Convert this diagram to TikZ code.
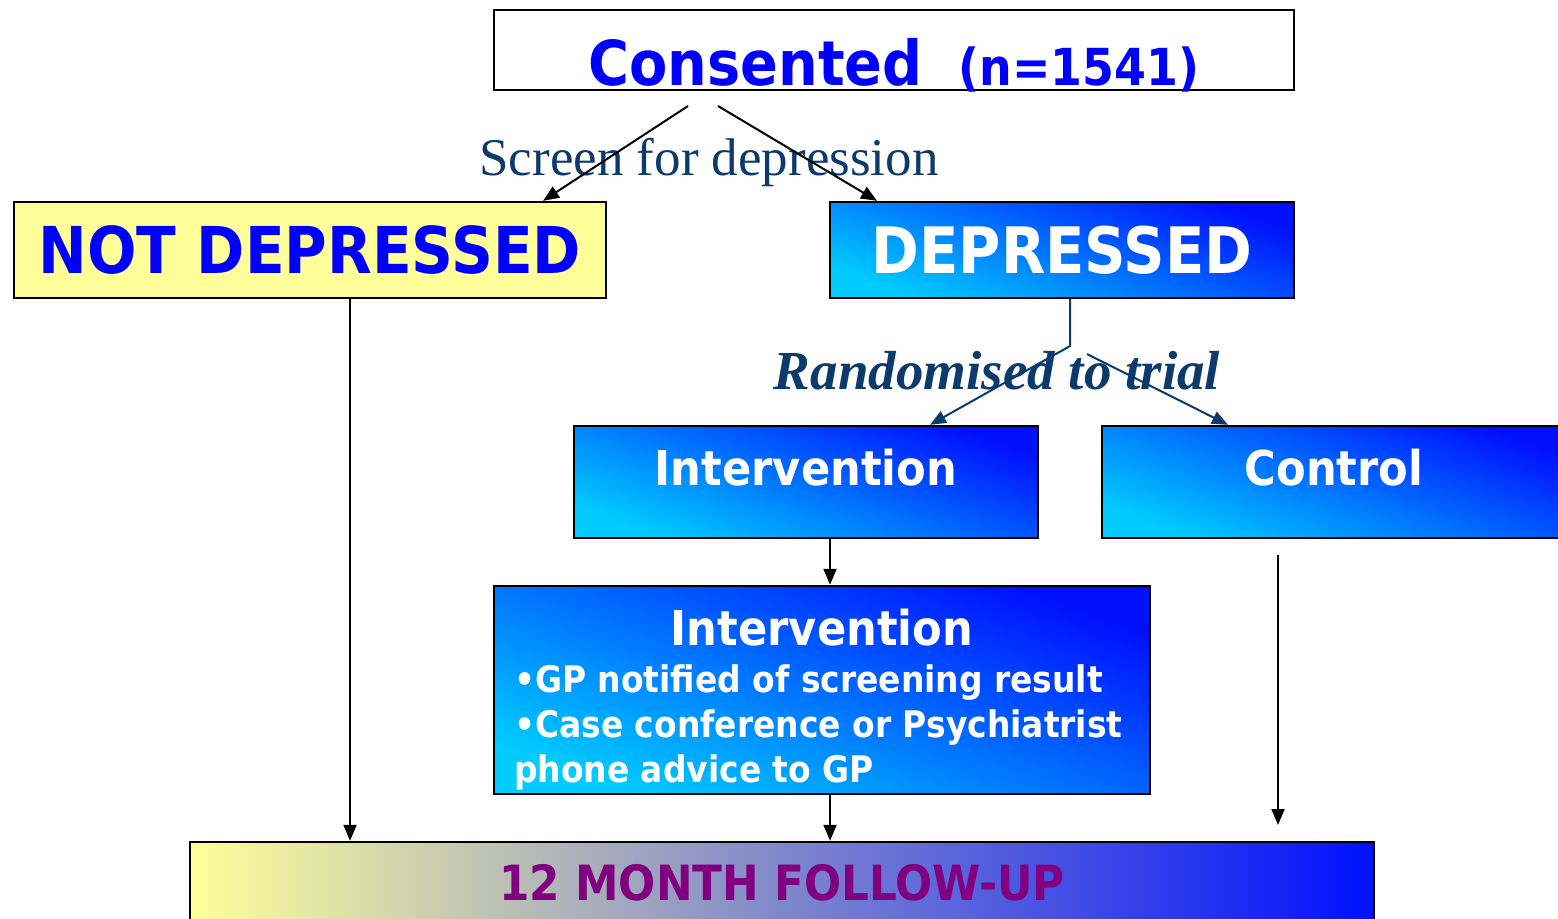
\documentclass[tikz,border=0pt]{standalone}
\usepackage{fontspec}
\setmainfont{Liberation Serif}
\newfontfamily\boxfont{DejaVu Sans}[FakeStretch=0.9]
\usepackage{tikz}
\usetikzlibrary{arrows.meta,calc}
\usepackage{xcolor}
\definecolor{TrialBlue}{HTML}{0000FF}
\definecolor{TrialNavy}{HTML}{0B3A6B}
\definecolor{TrialYellow}{HTML}{FFFF99}
\definecolor{TrialCyan}{HTML}{00CCFF}
\definecolor{TrialMid}{HTML}{00A0FF}
\definecolor{TrialDeep}{HTML}{0010FF}
\definecolor{TrialGrey}{HTML}{C8C8D0}
\definecolor{TrialPurple}{HTML}{800080}

\begin{document}
\begin{tikzpicture}[x=0.5pt, y=-0.5pt,
    every node/.style={font=\boxfont\bfseries},
    box/.style={draw, line width=1.2pt, inner xsep=0pt},
    bluebox/.style={box, left color=TrialCyan, middle color=TrialMid, right color=TrialDeep, shading angle=160},
    arr/.style={-{Triangle[length=8pt,width=6.5pt]}, line width=1pt}]
    \useasboundingbox (0,0) rectangle (1558,918);
    \clip (0,0) rectangle (1558,918);
    % boxes
    \node[box, fill=white, minimum width=400pt, inner ysep=0pt, text height=37.5pt, text depth=2.5pt, text=TrialBlue] (consented) at (894,50)
        {\fontsize{31}{31}\selectfont Consented\hspace{18pt}\fontsize{25.5}{25.5}\selectfont(n=1541)};
    \node[box, fill=TrialYellow, minimum width=296pt, minimum height=48pt, text=TrialBlue, font=\boxfont\bfseries\fontsize{32.3}{32.3}\selectfont] (notdep) at (310,250) {NOT DEPRESSED};
    \node[bluebox, minimum width=232pt, minimum height=48pt, text=white, font=\boxfont\bfseries\fontsize{32}{32}\selectfont] (depressed) at (1062,250) {DEPRESSED};
    \node[bluebox, minimum width=232pt, inner ysep=0pt, text height=29.5pt, text depth=26.5pt, text=white, font=\boxfont\bfseries\fontsize{24}{24}\selectfont] (interv) at (806,482) {Intervention};
    \node[bluebox, minimum width=232pt, inner ysep=0pt, text height=29.5pt, text depth=26.5pt, text=white, font=\boxfont\bfseries\fontsize{24}{24}\selectfont] (control) at (1334,482) {Control};
    \node[bluebox, minimum width=328pt, minimum height=104pt, inner ysep=0pt, align=left, text=white, font=\boxfont\bfseries\fontsize{18.3}{22.5}\selectfont] (interv2) at (822,690)
        {\makebox[308pt][c]{\rule{0pt}{27.5pt}\fontsize{24}{24}\selectfont Intervention}\\[1pt]
         •GP notified of screening result\\
         •Case conference or Psychiatrist\\
         phone advice to GP};
    \node[box, left color=TrialYellow, middle color=TrialGrey, right color=TrialDeep, minimum width=592pt, inner ysep=0pt, text height=29pt, text depth=20pt, text=TrialPurple, font=\boxfont\bfseries\fontsize{24.3}{24.3}\selectfont] (followup) at (782,891) {12 MONTH FOLLOW-UP};
    % labels
    \node[anchor=base, text=TrialNavy, font=\normalfont\fontsize{26.5}{26.5}\selectfont] (screen) at (709,175) {Screen for depression};
    \node[anchor=base, text=TrialNavy, font=\normalfont\bfseries\itshape\fontsize{27.5}{27.5}\selectfont] (randomised) at (997,389) {Randomised to trial};
    % connectors
    \coordinate (consL) at (688,106);
    \coordinate (consR) at (718,106);
    \draw[arr] (consL) -- ($(notdep.north)+(233,0)$);
    \draw[arr] (consR) -- ($(depressed.north)+(-185,0)$);
    \coordinate (split) at (1070,346);
    \coordinate (splitR) at (1087,354);
    \draw[arr, TrialNavy] ($(depressed.south)+(8,0)$) -- (split) -- ($(interv.north)+(124,0)$);
    \draw[arr, TrialNavy] (splitR) -- ($(control.north)+(-106,0)$);
    \draw[arr] ($(interv.south)+(24,0)$) -- ($(interv2.north)+(8,0)$);
    \coordinate (ctrlTop) at (1278,555);
    \coordinate (ctrlEnd) at (1278,825);
    \draw[arr] (ctrlTop) -- (ctrlEnd);
    \draw[arr] ($(notdep.south)+(40,0)$) -- ($(followup.north)+(-432,0)$);
    \draw[arr] ($(interv2.south)+(8,0)$) -- ($(followup.north)+(48,0)$);
\end{tikzpicture}
\end{document}
